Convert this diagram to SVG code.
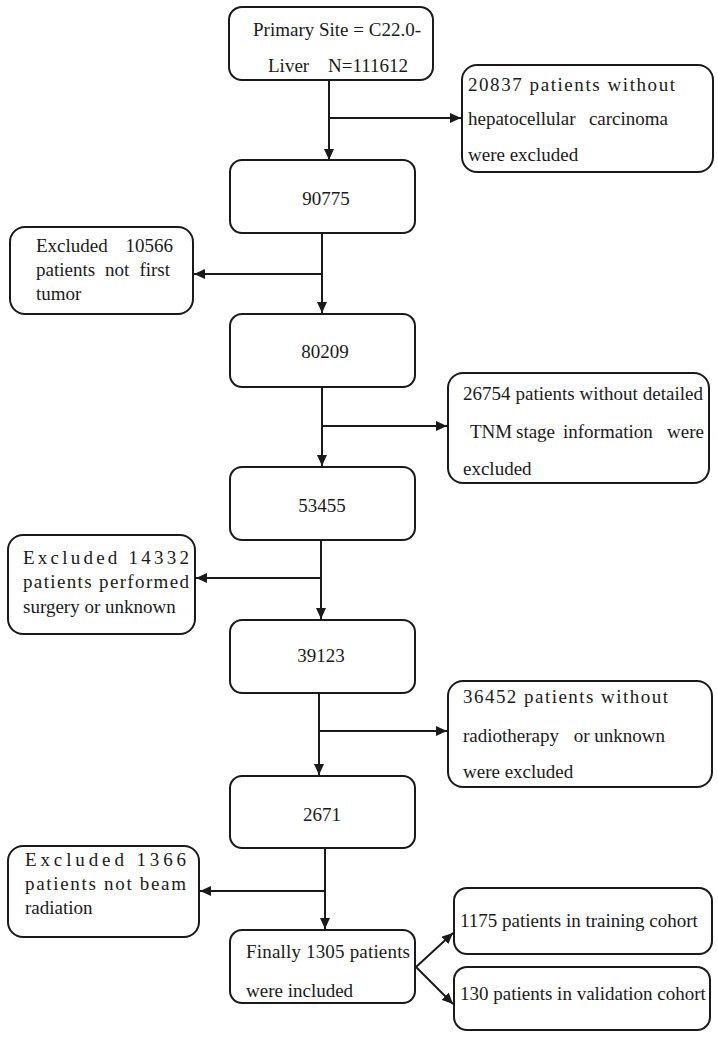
<svg xmlns="http://www.w3.org/2000/svg" width="718" height="1037" viewBox="0 0 718 1037">
<style>
.box{fill:#fff;stroke:#1a1a1a;stroke-width:2}
.t{font-family:"Liberation Serif","Times New Roman",serif;font-size:19px;fill:#1a1a1a}
.c{text-anchor:middle}
.e{text-anchor:end}
.ln{stroke:#1a1a1a;stroke-width:2;fill:none}
.ar{stroke:#1a1a1a;stroke-width:2;fill:none;marker-end:url(#ah)}
</style>
<defs>
<marker id="ah" markerUnits="userSpaceOnUse" markerWidth="12" markerHeight="10" refX="11" refY="5" orient="auto">
<path d="M0,0 L11,5 L0,10 z" fill="#1a1a1a"/>
</marker>
</defs>
<rect width="718" height="1037" fill="#fff"/>
<g id="connectors">
<path class="ar" d="M329,80 V160"/>
<path class="ar" d="M329,118 H461"/>
<path class="ar" d="M322,233 V313"/>
<path class="ar" d="M322,274 H194"/>
<path class="ar" d="M322,387 V466"/>
<path class="ar" d="M322,426 H447"/>
<path class="ar" d="M321,540 V619"/>
<path class="ar" d="M321,578 H196"/>
<path class="ar" d="M319,693 V775"/>
<path class="ar" d="M319,731 H447"/>
<path class="ar" d="M325,848 V929"/>
<path class="ar" d="M325,891 H200"/>
<path class="ar" d="M416,967 L453,933"/>
<path class="ar" d="M416,967 L453,1004"/>
</g>
<g id="n-primary">
<rect class="box" x="229" y="7" width="204" height="73" rx="13"/>
<text class="t" x="253" y="36">Primary Site = C22.0-</text>
<text class="t" x="268" y="72">Liver</text>
<text class="t" x="328" y="72">N=111612</text>
</g>
<g id="n-ex1">
<rect class="box" x="462" y="65" width="251" height="107" rx="15"/>
<text class="t" x="468" y="91" textLength="207" lengthAdjust="spacing">20837 patients without</text>
<text class="t" x="468" y="125">hepatocellular</text>
<text class="t e" x="668" y="125">carcinoma</text>
<text class="t" x="468" y="161">were excluded</text>
</g>
<g id="n-90775">
<rect class="box" x="230" y="160" width="185" height="73" rx="12"/>
<text class="t c" x="326" y="205">90775</text>
</g>
<g id="n-ex2">
<rect class="box" x="10" y="227" width="183" height="87" rx="15"/>
<text class="t" x="36" y="252">Excluded</text>
<text class="t e" x="173" y="252">10566</text>
<text class="t" x="36" y="276" word-spacing="5.25">patients not first</text>
<text class="t" x="36" y="300">tumor</text>
</g>
<g id="n-80209">
<rect class="box" x="230" y="314" width="185" height="73" rx="12"/>
<text class="t c" x="325" y="358">80209</text>
</g>
<g id="n-ex3">
<rect class="box" x="448" y="373" width="261" height="110" rx="15"/>
<text class="t" x="463" y="400" textLength="240" lengthAdjust="spacing">26754 patients without detailed</text>
<text class="t" x="470" y="438">TNM</text>
<text class="t" x="516" y="438">stage</text>
<text class="t" x="563" y="438">information</text>
<text class="t e" x="704" y="438">were</text>
<text class="t" x="463" y="475">excluded</text>
</g>
<g id="n-53455">
<rect class="box" x="230" y="467" width="185" height="73" rx="12"/>
<text class="t c" x="322" y="512">53455</text>
</g>
<g id="n-ex4">
<rect class="box" x="8" y="535" width="187" height="99" rx="15"/>
<text class="t" x="23" y="564" textLength="166" lengthAdjust="spacing">Excluded 14332</text>
<text class="t" x="23" y="588" textLength="166" lengthAdjust="spacing">patients performed</text>
<text class="t" x="23" y="613">surgery or unknown</text>
</g>
<g id="n-39123">
<rect class="box" x="230" y="620" width="185" height="73" rx="12"/>
<text class="t c" x="321" y="662">39123</text>
</g>
<g id="n-ex5">
<rect class="box" x="448" y="681" width="264" height="106" rx="15"/>
<text class="t" x="463" y="703" textLength="205" lengthAdjust="spacing">36452 patients without</text>
<text class="t" x="463" y="742">radiotherapy</text>
<text class="t e" x="665" y="742">or unknown</text>
<text class="t" x="463" y="778">were excluded</text>
</g>
<g id="n-2671">
<rect class="box" x="230" y="776" width="185" height="72" rx="12"/>
<text class="t c" x="322" y="821">2671</text>
</g>
<g id="n-ex6">
<rect class="box" x="8" y="846" width="191" height="91" rx="15"/>
<text class="t" x="25" y="866" textLength="161" lengthAdjust="spacing">Excluded 1366</text>
<text class="t" x="25" y="890" textLength="161" lengthAdjust="spacing">patients not beam</text>
<text class="t" x="25" y="914">radiation</text>
</g>
<g id="n-final">
<rect class="box" x="230" y="930" width="185" height="73" rx="12"/>
<text class="t" x="246" y="958" textLength="164" lengthAdjust="spacing">Finally 1305 patients</text>
<text class="t" x="246" y="997">were included</text>
</g>
<g id="n-train">
<rect class="box" x="454" y="888" width="258" height="66" rx="13"/>
<text class="t" x="460" y="927">1175 patients in training cohort</text>
</g>
<g id="n-valid">
<rect class="box" x="454" y="967" width="256" height="63" rx="13"/>
<text class="t" x="460" y="1000">130 patients in validation cohort</text>
</g>
</svg>
